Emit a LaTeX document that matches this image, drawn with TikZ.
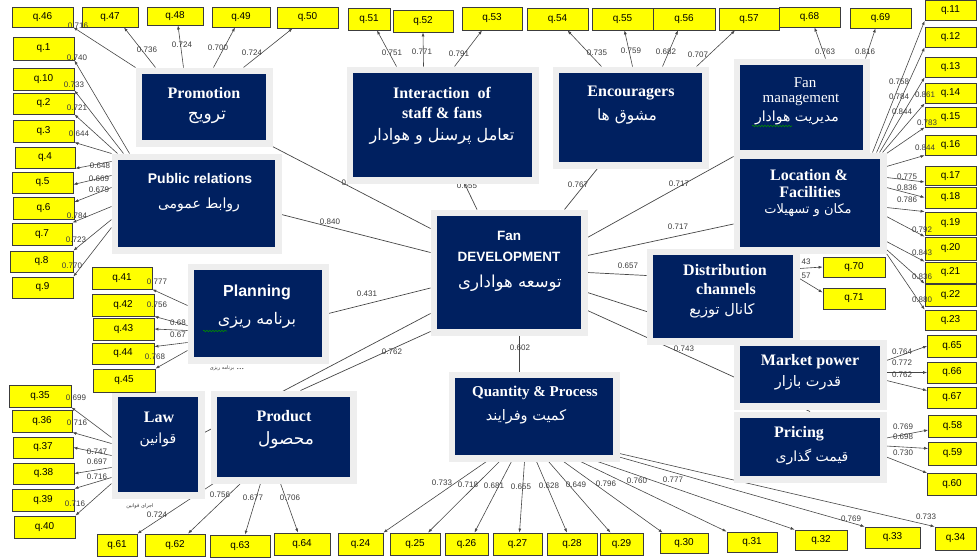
\documentclass[tikz,border=0pt]{standalone}
\usepackage{fontspec}
\setmainfont{Liberation Serif}
\newfontfamily\sans{Liberation Sans}
\newfontfamily\fa[Script=Arabic]{DejaVu Sans}
\TeXXeTstate=1
\usetikzlibrary{arrows.meta,calc,backgrounds,decorations.pathmorphing}
\definecolor{navy}{RGB}{0,32,96}
\definecolor{framegray}{RGB}{238,238,238}
\definecolor{qyellow}{RGB}{255,255,0}
\definecolor{qborder}{RGB}{60,60,60}
\definecolor{lncol}{RGB}{70,70,70}
\definecolor{coefcol}{RGB}{60,60,60}
\newcommand\fasize[1]{\fa\fontsize{#1}{#1}\selectfont}
\newcommand\serb{\fontsize{16}{18}\selectfont\bfseries}
\newcommand\sanb[1]{\sans\fontsize{#1}{#1}\selectfont\bfseries}

\begin{document}
\begin{tikzpicture}[x=1pt,y=-1pt]

\tikzstyle{lat} = [fill=navy, inner sep=0, outer sep=6.5pt, preaction={draw=framegray, line width=13pt}]
\tikzstyle{ind} = [draw=qborder, fill=qyellow, line width=0.8pt, inner sep=0, minimum width=60, minimum height=21, font=\sans\fontsize{10}{12}\selectfont]
\tikzstyle{ttl} = [text=white, inner sep=0]
\tikzstyle{lnk} = [draw=lncol, line width=0.7pt]
\tikzstyle{arr} = [draw=lncol, line width=0.6pt, -{Latex[length=4pt,width=3pt]}]
\tikzstyle{coef} = [text=coefcol, inner sep=0, font=\sans\fontsize{8}{9}\selectfont]
\tikzstyle{tiny} = [text=coefcol, inner sep=0]
\tikzstyle{squig} = [draw=green!55!black, line width=0.6pt, decorate, decoration={snake, amplitude=0.8pt, segment length=3pt}]

\useasboundingbox (0,0) rectangle (977,557);

% latent boxes
\node[lat, minimum width=124, minimum height=66] (promo) at (204,107) {};
\node[lat, minimum width=157, minimum height=87] (pr) at (196.5,203.5) {};
\node[lat, minimum width=128, minimum height=87] (plan) at (258,313.5) {};
\node[lat, minimum width=80, minimum height=95] (law) at (158,444.5) {};
\node[lat, minimum width=133, minimum height=80] (prod) at (283.5,437) {};
\node[lat, minimum width=179, minimum height=104] (inter) at (442.5,125) {};
\node[lat, minimum width=143, minimum height=89] (enc) at (630.5,117.5) {};
\node[lat, minimum width=123, minimum height=85] (fanm) at (801.5,107.5) {};
\node[lat, minimum width=140, minimum height=88] (loc) at (810,203) {};
\node[lat, minimum width=140, minimum height=83] (dist) at (723,296.5) {};
\node[lat, minimum width=140, minimum height=57] (mkt) at (810,374.5) {};
\node[lat, minimum width=140, minimum height=58] (price) at (810,447) {};
\node[lat, minimum width=158, minimum height=77] (qp) at (534,416.5) {};
\node[lat, minimum width=144, minimum height=113] (fd) at (509,272.5) {};

% titles
\node[ttl, font=\serb] (promo-en) at (204,93) {Promotion};
\node[ttl] (promo-fa) at (207,117) {\fasize{17}\beginR ترویج\endR};
\node[ttl, font=\sanb{14}] (pr-en) at (200,178) {Public relations};
\node[ttl] (pr-fa) at (199,205) {\fasize{14}\beginR روابط عمومی\endR};
\node[ttl, font=\sanb{16}] (plan-en) at (257,292) {Planning};
\node[ttl] (plan-fa) at (257,320) {\fasize{16}\beginR برنامه ریزی\endR};
\node[ttl, font=\serb] (law-en) at (159,417) {Law};
\node[ttl] (law-fa) at (158,440) {\fasize{14}\beginR قوانین\endR};
\node[ttl, font=\serb] (prod-en) at (284,416) {Product};
\node[ttl] (prod-fa) at (286,440) {\fasize{17}\beginR محصول\endR};
\node[ttl, font=\serb] (inter-en1) at (442,93) {Interaction~~of};
\node[ttl, font=\serb] (inter-en2) at (442,113) {staff \& fans};
\node[ttl] (inter-fa) at (442,136) {\fasize{16}\beginR تعامل پرسنل و هوادار\endR};
\node[ttl, font=\serb] (enc-en) at (631,93) {Encouragers};
\node[ttl] (enc-fa) at (627,117) {\fasize{15.5}\beginR مشوق ها\endR};
\node[ttl, font=\fontsize{15}{16}\selectfont] (fanm-en1) at (805,83) {Fan};
\node[ttl, font=\fontsize{15}{16}\selectfont] (fanm-en2) at (801,100) {management};
\node[ttl] (fanm-fa) at (797,118) {\fasize{14}\beginR مدیریت هوادار\endR};
\node[ttl, font=\serb] (loc-en1) at (809,175) {Location \&};
\node[ttl, font=\serb] (loc-en2) at (810,192) {Facilities};
\node[ttl] (loc-fa) at (808,210) {\fasize{13}\beginR مکان و تسهیلات\endR};
\node[ttl, font=\serb] (dist-en1) at (725,270) {Distribution};
\node[ttl, font=\serb] (dist-en2) at (726,289) {channels};
\node[ttl] (dist-fa) at (722,311) {\fasize{14.5}\beginR کانال توزیع\endR};
\node[ttl, font=\serb] (mkt-en) at (810,362) {Market power};
\node[ttl] (mkt-fa) at (808,383) {\fasize{14.5}\beginR قدرت بازار\endR};
\node[ttl, font=\serb] (price-en) at (799,434) {Pricing};
\node[ttl] (price-fa) at (812,457) {\fasize{14}\beginR قیمت گذاری\endR};
\node[ttl, font=\fontsize{15}{16}\selectfont\bfseries] (qp-en) at (535,393) {Quantity \& Process};
\node[ttl] (qp-fa) at (526,417) {\fasize{14.5}\beginR کمیت وفرایند\endR};
\node[ttl, font=\sanb{13.5}] (fd-en1) at (509,236) {Fan};
\node[ttl, font=\sanb{13.5}] (fd-en2) at (509,257) {DEVELOPMENT};
\node[ttl] (fd-fa) at (510,283) {\fasize{16.5}\beginR توسعه هواداری\endR};

% indicators
\node[ind, minimum width=61, minimum height=20] (q46) at (42.5,17) {q.46};
\node[ind, minimum width=56, minimum height=20] (q47) at (110,17) {q.47};
\node[ind, minimum width=56, minimum height=18] (q48) at (175,16) {q.48};
\node[ind, minimum width=58, minimum height=20] (q49) at (241,17) {q.49};
\node[ind, minimum width=61] (q50) at (307.5,17.5) {q.50};
\node[ind, minimum width=42, minimum height=22] (q51) at (369,19) {q.51};
\node[ind, minimum height=22] (q52) at (423,21) {q.52};
\node[ind, minimum height=23] (q53) at (492,18.5) {q.53};
\node[ind, minimum width=61, minimum height=22] (q54) at (557.5,19) {q.54};
\node[ind, minimum width=61, minimum height=22] (q55) at (622.5,19) {q.55};
\node[ind, minimum width=62, minimum height=22] (q56) at (684,19) {q.56};
\node[ind, minimum height=22] (q57) at (749,19) {q.57};
\node[ind, minimum width=61, minimum height=20] (q68) at (809.5,17) {q.68};
\node[ind, minimum width=61, minimum height=20] (q69) at (880.5,18) {q.69};

\node[ind, minimum width=51, minimum height=20] (q11) at (950.5,10.5) {q.11};
\node[ind, minimum width=51, minimum height=20] (q12) at (950.5,37) {q.12};
\node[ind, minimum width=51, minimum height=20] (q13) at (950.5,67) {q.13};
\node[ind, minimum width=51, minimum height=20] (q14) at (950.5,93) {q.14};
\node[ind, minimum width=51, minimum height=20] (q15) at (950.5,117) {q.15};
\node[ind, minimum width=51, minimum height=20] (q16) at (950.5,145) {q.16};
\node[ind, minimum width=51, minimum height=19] (q17) at (950.5,176) {q.17};
\node[ind, minimum width=51] (q18) at (950.5,197.5) {q.18};
\node[ind, minimum width=51, minimum height=23] (q19) at (950.5,223.5) {q.19};
\node[ind, minimum width=51, minimum height=23] (q20) at (950.5,248.5) {q.20};
\node[ind, minimum width=51] (q21) at (950.5,272.5) {q.21};
\node[ind, minimum width=51, minimum height=22] (q22) at (950.5,295) {q.22};
\node[ind, minimum width=51, minimum height=20] (q23) at (950.5,320) {q.23};

\node[ind, minimum width=62, minimum height=20] (q70) at (854,267) {q.70};
\node[ind, minimum width=62] (q71) at (854,298.5) {q.71};

\node[ind, minimum width=49, minimum height=22] (q65) at (952,346) {q.65};
\node[ind, minimum width=49] (q66) at (952,372.5) {q.66};
\node[ind, minimum width=49] (q67) at (952,397.5) {q.67};
\node[ind, minimum width=48, minimum height=22] (q58) at (952.5,426) {q.58};
\node[ind, minimum width=48, minimum height=23] (q59) at (952.5,453.5) {q.59};
\node[ind, minimum width=49, minimum height=22] (q60) at (952,484) {q.60};

\node[ind, minimum width=40, minimum height=22] (q61) at (117,545) {q.61};
\node[ind, minimum height=22] (q62) at (175,545) {q.62};
\node[ind, minimum height=22] (q63) at (240,546) {q.63};
\node[ind, minimum width=56, minimum height=22] (q64) at (302,544) {q.64};
\node[ind, minimum width=45, minimum height=22] (q24) at (360.5,544) {q.24};
\node[ind, minimum width=50, minimum height=22] (q25) at (415,544) {q.25};
\node[ind, minimum width=43, minimum height=22] (q26) at (466.5,544) {q.26};
\node[ind, minimum width=49, minimum height=22] (q27) at (517.5,544) {q.27};
\node[ind, minimum width=50, minimum height=22] (q28) at (572,544) {q.28};
\node[ind, minimum width=43, minimum height=22] (q29) at (621.5,544) {q.29};
\node[ind, minimum width=48, minimum height=20] (q30) at (684,543) {q.30};
\node[ind, minimum width=50, minimum height=20] (q31) at (752,542) {q.31};
\node[ind, minimum width=52, minimum height=20] (q32) at (821,540) {q.32};
\node[ind, minimum width=55] (q33) at (892.5,537.5) {q.33};
\node[ind, minimum width=41, minimum height=23] (q34) at (955.5,538.5) {q.34};

\node[ind, minimum width=61, minimum height=23] (q1) at (43.5,48.5) {q.1};
\node[ind, minimum width=61, minimum height=22] (q10) at (43.5,79) {q.10};
\node[ind, minimum width=61] (q2) at (43.5,103.5) {q.2};
\node[ind, minimum width=61, minimum height=22] (q3) at (43.5,131) {q.3};
\node[ind] (q4) at (45,157.5) {q.4};
\node[ind, minimum width=61] (q5) at (42.5,182.5) {q.5};
\node[ind, minimum width=61, minimum height=22] (q6) at (43.5,208) {q.6};
\node[ind, minimum height=22] (q7) at (42,234) {q.7};
\node[ind, minimum width=63] (q8) at (41.5,261.5) {q.8};
\node[ind, minimum width=61] (q9) at (42.5,287.5) {q.9};

\node[ind, minimum height=22] (q41) at (122,278) {q.41};
\node[ind, minimum width=62, minimum height=22] (q42) at (123,305) {q.42};
\node[ind, minimum width=61, minimum height=22] (q43) at (123.5,329) {q.43};
\node[ind, minimum width=62] (q44) at (123,353.5) {q.44};
\node[ind, minimum width=62, minimum height=23] (q45) at (124,380.5) {q.45};

\node[ind, minimum width=62, minimum height=22] (q35) at (40,396) {q.35};
\node[ind, minimum height=22] (q36) at (42,421) {q.36};
\node[ind] (q37) at (43,447.5) {q.37};
\node[ind, minimum width=61] (q38) at (43.5,473.5) {q.38};
\node[ind, minimum width=62, minimum height=22] (q39) at (43,500) {q.39};
\node[ind, minimum width=61, minimum height=22] (q40) at (44.5,527) {q.40};

\begin{pgfonlayer}{background}
% fan development to the factors
\draw[lnk] ($(fd.north west)+(0,19)$) -- (promo.south east);
\draw[lnk] ($(fd.west)+(0,-20)$) -- ($(pr.east)+(0,11)$);
\draw[lnk] ($(fd.west)+(0,15.5)$) -- (plan.east);
\draw[lnk] ($(fd.west)+(0,41)$) -- ($(law.east)+(0,-12)$);
\draw[lnk] ($(fd.south west)+(0,-4)$) -- ($(prod.north east)+(-56,0)$);
\draw[lnk] ($(fd.north)+(-32,0)$) -- ($(inter.south)+(22,0)$);
\draw[lnk] ($(fd.north east)+(-23,0)$) -- ($(enc.south)+(-33,0)$);
\draw[lnk] ($(fd.east)+(0,-35)$) -- (fanm.south west);
\draw[lnk] ($(fd.east)+(0,-17)$) -- ($(loc.west)+(0,21)$);
\draw[lnk] (fd.east) -- ($(dist.west)+(0,-21)$);
\draw[lnk] ($(fd.east)+(0,20)$) -- (mkt.north west);
\draw[lnk] ($(fd.east)+(0,38)$) -- (price.north);
\draw[lnk] ($(fd.south)+(10,0)$) -- ($(qp.north)+(-15,0)$);

% promotion
\draw[arr] (promo.north west) -- (q46.south east);
\draw[arr] ($(promo.north west)+(20,0)$) -- ($(q47.south)+(14,0)$);
\draw[arr] ($(promo.north west)+(48,0)$) -- ($(q48.south)+(3,0)$);
\draw[arr] ($(promo.north west)+(78,0)$) -- ($(q49.south)+(-6,0)$);
\draw[arr] ($(promo.north west)+(108,0)$) -- ($(q50.south)+(-15,0)$);
% public relations
\draw[arr] ($(pr.north west)+(18,0)$) -- (q1.south east);
\draw[arr] ($(pr.north west)+(12,0)$) -- (q10.south east);
\draw[arr] ($(pr.north west)+(6,0)$) -- (q2.south east);
\draw[arr] (pr.north west) -- (q3.south east);
\draw[arr] ($(pr.north west)+(0,8)$) -- (q4.south east);
\draw[arr] ($(pr.north west)+(0,22)$) -- ($(q5.east)+(0,2)$);
\draw[arr] ($(pr.north west)+(0,34)$) -- ($(q6.east)+(0,-6)$);
\draw[arr] ($(pr.north west)+(0,53)$) -- (q7.north east);
\draw[arr] ($(pr.north west)+(0,66)$) -- (q8.north east);
\draw[arr] ($(pr.north west)+(0,74)$) -- (q9.north east);
% planning
\draw[arr] ($(plan.west)+(0,-8)$) -- (q41.south east);
\draw[arr] ($(plan.west)+(0,12)$) -- (q42.south east);
\draw[arr] ($(plan.west)+(0,17)$) -- (q43.east);
\draw[arr] ($(plan.west)+(0,29)$) -- ($(q44.north east)+(0,4)$);
\draw[arr] ($(plan.west)+(0,37)$) -- (q45.north east);
% law
\draw[arr] ($(law.west)+(0,-7)$) -- (q35.south east);
\draw[arr] ($(law.west)+(0,-1)$) -- (q36.south east);
\draw[arr] ($(law.west)+(0,11)$) -- (q37.east);
\draw[arr] ($(law.west)+(0,23)$) -- (q38.east);
\draw[arr] ($(law.west)+(0,33)$) -- (q39.north east);
\draw[arr] ($(law.west)+(0,39)$) -- (q40.north east);
% product
\draw[arr] ($(prod.south west)+(3,0)$) -- (q61.north east);
\draw[arr] ($(prod.south west)+(30,0)$) -- ($(q62.north)+(13,0)$);
\draw[arr] ($(prod.south west)+(50,0)$) -- ($(q63.north)+(5,0)$);
\draw[arr] ($(prod.south west)+(70,0)$) -- ($(q64.north)+(-4,0)$);
% interaction
\draw[arr] ($(inter.north west)+(50,0)$) -- ($(q51.south)+(8,0)$);
\draw[arr] ($(inter.north west)+(77,0)$) -- (q52.south);
\draw[arr] ($(inter.north west)+(108,0)$) -- ($(q53.south)+(-10,0)$);
% encouragers
\draw[arr] ($(enc.north west)+(49,0)$) -- ($(q54.south)+(10,0)$);
\draw[arr] ($(enc.north west)+(80,0)$) -- ($(q55.south)+(2,0)$);
\draw[arr] ($(enc.north west)+(110,0)$) -- ($(q56.south)+(-6,0)$);
\draw[arr] ($(enc.north west)+(144,0)$) -- ($(q57.south)+(-14,0)$);
% fan management
\draw[arr] ($(fanm.north west)+(92,0)$) -- ($(q68.south)+(5,0)$);
\draw[arr] ($(fanm.north west)+(132,0)$) -- ($(q69.south)+(-5,0)$);
% location
\draw[arr] ($(loc.north east)+(-14,0)$) -- (q11.south west);
\draw[arr] ($(loc.north east)+(-10,0)$) -- (q12.south west);
\draw[arr] ($(loc.north east)+(-7,0)$) -- (q13.south west);
\draw[arr] ($(loc.north east)+(-4,0)$) -- (q14.south west);
\draw[arr] ($(loc.north east)+(0,1)$) -- (q15.south west);
\draw[arr] ($(loc.north east)+(0,14)$) -- (q16.south west);
\draw[arr] ($(loc.north east)+(0,25)$) -- ($(q17.west)+(0,6)$);
\draw[arr] ($(loc.north east)+(0,35)$) -- (q18.west);
\draw[arr] ($(loc.north east)+(0,55)$) -- (q19.north west);
\draw[arr] ($(loc.north east)+(0,64)$) -- (q20.north west);
\draw[arr] ($(loc.north east)+(0,89)$) -- (q21.north west);
\draw[arr] ($(loc.north east)+(0,97)$) -- (q22.north west);
\draw[arr] (loc.south east) -- (q23.north west);
% distribution
\draw[arr] ($(dist.east)+(0,-28)$) -- (q70.west);
\draw[arr] ($(dist.east)+(0,-18)$) -- ($(q71.west)+(0,-6)$);
% market power
\draw[arr] ($(mkt.east)+(0,-14)$) -- (q65.west);
\draw[arr] ($(mkt.east)+(0,-2)$) -- (q66.west);
\draw[arr] ($(mkt.east)+(0,6)$) -- ($(q67.west)+(0,-7)$);
% pricing
\draw[arr] ($(price.east)+(0,-9)$) -- ($(q58.west)+(0,4)$);
\draw[arr] ($(price.east)+(0,-1)$) -- ($(q59.west)+(0,-5)$);
\draw[arr] ($(price.east)+(0,10)$) -- ($(q60.west)+(0,-11)$);
% quantity and process
\draw[arr] ($(qp.south west)+(38,0)$) -- (q24.north east);
\draw[arr] ($(qp.south west)+(51,0)$) -- ($(q25.north)+(13,0)$);
\draw[arr] ($(qp.south west)+(63,0)$) -- ($(q26.north)+(8,0)$);
\draw[arr] ($(qp.south west)+(76,0)$) -- ($(q27.north)+(2,0)$);
\draw[arr] ($(qp.south west)+(88,0)$) -- ($(q28.north)+(-5,0)$);
\draw[arr] ($(qp.south west)+(100,0)$) -- ($(q29.north)+(-11,0)$);
\draw[arr] ($(qp.south west)+(115,0)$) -- ($(q30.north west)+(3,0)$);
\draw[arr] ($(qp.south west)+(132,0)$) -- (q31.north west);
\draw[arr] ($(qp.south west)+(149,0)$) -- (q32.north west);
\draw[arr] ($(qp.south east)+(-2,-5)$) -- (q33.north west);
\draw[arr] ($(qp.south east)+(0,-8)$) -- (q34.north west);

\node[coef] (k-promo) at (345,183) {0.};
\node[coef] (k-inter) at (467,186) {0.655};
\end{pgfonlayer}

% coefficients
\node[coef] (k-pr) at (330,222) {0.840};
\node[coef] (k-plan) at (367,294) {0.431};
\node[coef] (k-prod) at (392,352) {0.762};
\node[coef] (k-enc) at (578,185) {0.767};
\node[coef] (k-fanm) at (679,184) {0.717};
\node[coef] (k-loc) at (678,227) {0.717};
\node[coef] (k-dist) at (628,266) {0.657};
\node[coef] (k-price) at (684,349) {0.743};
\node[coef] (k-qp) at (520,348) {0.602};

\node[coef] (k46) at (78,26) {0.716};
\node[coef] (k47) at (147,50) {0.736};
\node[coef] (k48) at (182,45) {0.724};
\node[coef] (k49) at (218,48) {0.700};
\node[coef] (k50) at (252,53) {0.724};
\node[coef] (k1) at (77,58) {0.740};
\node[coef] (k10) at (74,85) {0.733};
\node[coef] (k2) at (77,108) {0.721};
\node[coef] (k3) at (79,134) {0.644};
\node[coef] (k4) at (100,166) {0.648};
\node[coef] (k5) at (99,179) {0.669};
\node[coef] (k6) at (99,190) {0.679};
\node[coef] (k7) at (77,216) {0.784};
\node[coef] (k8) at (76,240) {0.723};
\node[coef] (k9) at (72,266) {0.770};
\node[coef] (k41) at (157,282) {0.777};
\node[coef] (k42) at (157,305) {0.756};
\node[coef] (k43) at (178,323) {0.68};
\node[coef] (k44) at (178,335) {0.67};
\node[coef] (k45) at (155,357) {0.768};
\node[coef] (k35) at (76,398) {0.699};
\node[coef] (k36) at (77,423) {0.716};
\node[coef] (k37) at (97,452) {0.747};
\node[coef] (k38) at (97,462) {0.697};
\node[coef] (k39) at (97,477) {0.716};
\node[coef] (k40) at (75,504) {0.716};
\node[coef] (k61) at (157,515) {0.724};
\node[coef] (k62) at (220,495) {0.756};
\node[coef] (k63) at (253,498) {0.677};
\node[coef] (k64) at (290,498) {0.706};
\node[coef] (k51) at (392,53) {0.751};
\node[coef] (k52) at (422,52) {0.771};
\node[coef] (k53) at (459,54) {0.791};
\node[coef] (k54) at (597,53) {0.735};
\node[coef] (k55) at (631,51) {0.759};
\node[coef] (k56) at (666,52) {0.682};
\node[coef] (k57) at (698,55) {0.707};
\node[coef] (k68) at (825,52) {0.763};
\node[coef] (k69) at (865,52) {0.816};
\node[coef] (k11) at (899,82) {0.758};
\node[coef] (k12) at (899,97) {0.784};
\node[coef] (k13) at (925,95) {0.861};
\node[coef] (k14) at (902,112) {0.844};
\node[coef] (k15) at (927,123) {0.783};
\node[coef] (k16) at (925,148) {0.844};
\node[coef] (k17) at (907,177) {0.775};
\node[coef] (k18) at (907,188) {0.836};
\node[coef] (k19) at (907,200) {0.786};
\node[coef] (k20) at (922,230) {0.792};
\node[coef] (k21) at (922,253) {0.843};
\node[coef] (k22) at (922,277) {0.836};
\node[coef] (k23) at (922,300) {0.880};
\node[coef] (k70) at (806,262) {43};
\node[coef] (k71) at (806,276) {57};
\node[coef] (k65) at (902,352) {0.764};
\node[coef] (k66) at (902,363) {0.772};
\node[coef] (k67) at (902,375) {0.762};
\node[coef] (k58) at (903,427) {0.769};
\node[coef] (k59) at (903,437) {0.698};
\node[coef] (k60) at (903,453) {0.730};
\node[coef] (k24) at (442,483) {0.733};
\node[coef] (k25) at (468,485) {0.718};
\node[coef] (k26) at (494,486) {0.681};
\node[coef] (k27) at (521,487) {0.655};
\node[coef] (k28) at (549,486) {0.628};
\node[coef] (k29) at (576,485) {0.649};
\node[coef] (k30) at (606,484) {0.796};
\node[coef] (k31) at (637,481) {0.760};
\node[coef] (k32) at (673,480) {0.777};
\node[coef] (k33) at (851,519) {0.769};
\node[coef] (k34) at (926,517) {0.733};

% small notes
\node[tiny] (plan-note) at (227,368) {{\fasize{5}\beginR برنامه ریزی\endR} ...};
\node[tiny] (law-note) at (140,506) {\fasize{5}\beginR اجرای قوانین\endR};
\draw[squig] (203,331) -- (227,331);
\draw[squig] (752,126) -- (792,126);

\end{tikzpicture}
\end{document}
